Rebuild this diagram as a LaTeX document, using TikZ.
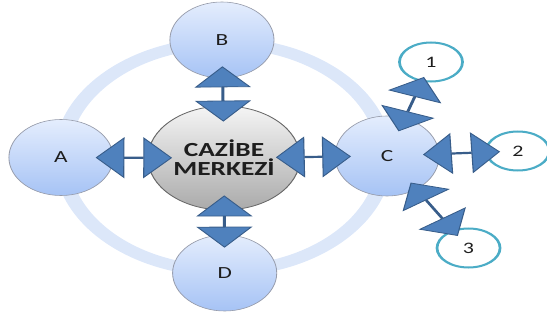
\documentclass[tikz,border=0pt]{standalone}
\usepackage{fontspec}
\setmainfont{Carlito}
\usetikzlibrary{shapes.geometric,arrows.meta}
\definecolor{ringc}{RGB}{220,231,249}
\definecolor{nodetop}{RGB}{228,237,253}
\definecolor{nodebot}{RGB}{166,195,245}
\definecolor{nodeborder}{RGB}{150,155,170}
\definecolor{ctrtop}{RGB}{245,245,245}
\definecolor{ctrmid}{RGB}{222,222,222}
\definecolor{ctrbot}{RGB}{170,170,170}
\definecolor{ctrborder}{RGB}{105,105,105}
\definecolor{afill}{HTML}{4F81BD}
\definecolor{aline}{HTML}{385D8A}
\definecolor{teal5}{HTML}{4BACC6}
\definecolor{txt}{RGB}{30,30,30}
\begin{document}
\begin{tikzpicture}[x=1pt,y=-1pt,
  bubble/.style={ellipse, draw=nodeborder, line width=0.6pt, top color=nodetop, bottom color=nodebot,
    inner sep=0pt, minimum width=76pt, minimum height=76pt, text=txt, font=\fontsize{17}{17}\selectfont},
  center/.style={ellipse, draw=ctrborder, line width=0.8pt, top color=ctrtop, middle color=ctrmid, bottom color=ctrbot,
    inner sep=0pt, minimum width=111pt, minimum height=104pt, text=txt, align=center,
    font=\fontsize{20}{19}\selectfont\bfseries},
  small/.style={ellipse, draw=teal5, line width=2pt, fill=white, inner sep=0pt,
    minimum width=46pt, minimum height=39pt, text=txt, font=\fontsize{16}{16}\selectfont},
  dbl/.style={aline, line width=2.2pt,
    {Triangle[length=21pt,width=41pt,fill=afill,line width=0.8pt]}-{Triangle[length=21pt,width=41pt,fill=afill,line width=0.8pt]}},
  ring/.style={ringc, line width=11pt}
]
\useasboundingbox (0,0) rectangle (547,321);
\begin{scope}[transform canvas={xscale=1.37}]
  \draw[ring] (163,157) ellipse [x radius=118pt, y radius=114pt];
  \node[center] (M) at (163.5,158) {CAZİBE\\MERKEZİ};
  \node[bubble] (A) at (44.5,157.5) {A};
  \node[bubble] (B) at (162,40) {B};
  \node[bubble, minimum height=80pt] (C) at (282.5,156) {C};
  \node[bubble] (D) at (164,273) {D};
  \node[small] (n1) at (314.6,62) {1};
  \node[small] (n2) at (378,151) {2};
  \node[small] (n3) at (342,248) {3};
  \draw[dbl, shorten <=-13pt, shorten >=-18pt] (A) -- (M);
  \draw[dbl, shorten <=-12pt, shorten >=-16pt] (B) -- (M);
  \draw[dbl, shorten <=-18pt, shorten >=-12pt] (M) -- (C);
  \draw[dbl, shorten <=-15pt, shorten >=-13pt] (M) -- (D);
  \draw[dbl, shorten <=-12pt, shorten >=-11pt] (C) -- (n2);
  \draw[dbl, shorten <=-14pt, shorten >=-5pt] (C) -- (n1);
  \draw[dbl, shorten <=-8pt, shorten >=-7pt] (C) -- (n3);
\end{scope}
\end{tikzpicture}
\end{document}
